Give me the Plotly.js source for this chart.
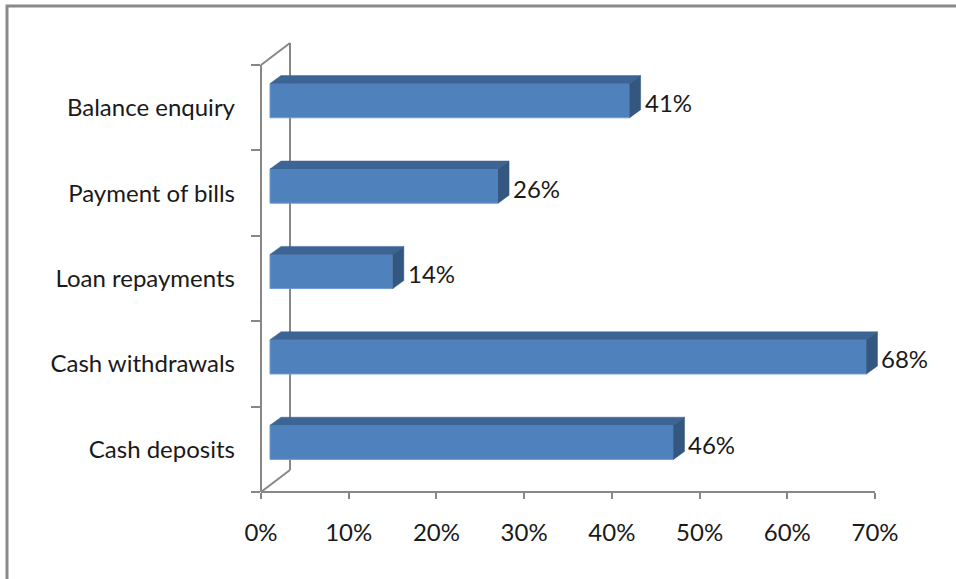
<!DOCTYPE html>
<html><head><meta charset="utf-8">
<script src="https://cdn.plot.ly/plotly-3.0.1.min.js"></script>
<style>html,body{margin:0;padding:0;background:#fff}#chart{width:956px;height:579px}</style>
</head><body><div id="chart"></div>
<script>
// ---- data ----
const categories = ['Cash deposits', 'Cash withdrawals', 'Loan repayments', 'Payment of bills', 'Balance enquiry'];
const values = [0.46, 0.68, 0.14, 0.26, 0.41];
const tickValues = [0, 0.1, 0.2, 0.3, 0.4, 0.5, 0.6, 0.7];
const tickLabels = ['0%', '10%', '20%', '30%', '40%', '50%', '60%', '70%'];

// ---- geometry (pixels) ----
const W = 956, H = 579;
const L = 261, R = 890, T = 43, B = 492;   // plot area
const frontTop = 65;                         // top of front wall
const pxPerUnitX = 614 / 0.7;                // 70% spans 614 px
const catPx = (B - frontTop) / categories.length;
const barOffX = 9, barOffY = 7;              // bar front face offset from front plane
const depthX = 11, depthY = 8;               // bar depth
const wallX = 29, wallY = 22;                // wall depth
const barHalf = 0.2;

const axisGray = '#878787';
const textCol = '#1a1a1a';
const fontFam = 'Lato, "Open Sans", sans-serif';
const fontSize = 24;

const idx = categories.map((c, i) => i);
const dxU = depthX / pxPerUnitX, dyU = depthY / catPx;

const px = p => (p - L) / (R - L);
const py = p => (B - p) / (B - T);

const shapes = [];
// outer chart frame
shapes.push({type: 'rect', xref: 'paper', yref: 'paper', x0: px(7), x1: px(975), y0: py(600), y1: py(6),
  line: {color: '#8a8a8a', width: 3}, fillcolor: 'rgba(0,0,0,0)', layer: 'below'});
// walls
const wl = {color: axisGray, width: 2};
shapes.push({type: 'line', xref: 'paper', yref: 'paper', x0: px(L), x1: px(L), y0: py(B), y1: py(frontTop), line: wl});
shapes.push({type: 'line', xref: 'paper', yref: 'paper', x0: px(L + wallX), x1: px(L + wallX), y0: py(B - wallY), y1: py(frontTop - wallY), line: wl, layer: 'below'});
shapes.push({type: 'line', xref: 'paper', yref: 'paper', x0: px(L), x1: px(L + wallX), y0: py(frontTop), y1: py(frontTop - wallY), line: wl});
shapes.push({type: 'line', xref: 'paper', yref: 'paper', x0: px(L), x1: px(L + wallX), y0: py(B), y1: py(B - wallY), line: wl});
// x axis line
shapes.push({type: 'line', xref: 'x', yref: 'paper', x0: 0, x1: tickValues[tickValues.length - 1], y0: 0, y1: 0, line: wl});

// bar 3D faces
values.forEach((v, i) => {
  const yt = i + barHalf, yb = i - barHalf;
  shapes.push({type: 'path', xref: 'x2', yref: 'y2', layer: 'above',
    path: `M0,${yt} L${v},${yt} L${v + dxU},${yt + dyU} L${dxU},${yt + dyU} Z`,
    fillcolor: '#3c6596', line: {width: 0.5, color: '#3a6190'}});
  shapes.push({type: 'path', xref: 'x2', yref: 'y2', layer: 'above',
    path: `M${v},${yt} L${v + dxU},${yt + dyU} L${v + dxU},${yb + dyU} L${v},${yb} Z`,
    fillcolor: '#33577f', line: {width: 0.5, color: '#33577f'}});
});

const annotations = values.map((v, i) => ({
  xref: 'x2', yref: 'y2', x: v + dxU, y: i, xanchor: 'left', yanchor: 'middle',
  xshift: 2, yshift: -2, showarrow: false,
  text: Math.round(v * 100) + '%', font: {family: fontFam, size: fontSize, color: textCol}
}));

const traces = [
  {type: 'scatter', x: categories.map(() => 0), y: categories, xaxis: 'x', yaxis: 'y',
   mode: 'markers', marker: {opacity: 0}, hoverinfo: 'skip', showlegend: false},
  {type: 'bar', orientation: 'h', x: values, y: idx, base: 0, width: barHalf * 2,
   xaxis: 'x2', yaxis: 'y2',
   marker: {color: '#4f81bd', line: {color: '#6f9bd0', width: 1}},
   hoverinfo: 'skip', showlegend: false}
];

const layout = {
  width: W, height: H,
  margin: {l: L, r: W - R, t: T, b: H - B, pad: 0},
  paper_bgcolor: '#fff', plot_bgcolor: 'rgba(0,0,0,0)',
  showlegend: false,
  xaxis: {domain: [0, 1], range: [0, (R - L) / pxPerUnitX], tickvals: tickValues, ticktext: tickLabels,
    ticks: 'outside', ticklen: 6, tickwidth: 2, tickcolor: axisGray, showline: false, showgrid: false,
    zeroline: false, tickfont: {family: fontFam, size: fontSize, color: textCol}, ticklabelstandoff: 13, fixedrange: true},
  yaxis: {domain: [0, 1], type: 'category', categoryorder: 'array', categoryarray: categories,
    range: [-0.5, categories.length - 0.5 + (frontTop - T) / catPx],
    ticks: 'outside', tickson: 'boundaries', ticklen: 9, tickwidth: 2, tickcolor: axisGray,
    showline: false, showgrid: false, zeroline: false,
    tickfont: {family: fontFam, size: fontSize, color: textCol}, ticklabelstandoff: 25, fixedrange: true},
  xaxis2: {overlaying: 'x', anchor: 'y2', visible: false,
    range: [-barOffX / pxPerUnitX, (R - L - barOffX) / pxPerUnitX], fixedrange: true},
  yaxis2: {overlaying: 'y', anchor: 'x2', visible: false,
    range: [-0.5 - barOffY / catPx, categories.length - 0.5 + (frontTop - T) / catPx - barOffY / catPx], fixedrange: true},
  shapes: shapes,
  annotations: annotations
};

Plotly.newPlot('chart', traces, layout, {staticPlot: true, displayModeBar: false});
</script>
</body></html>
